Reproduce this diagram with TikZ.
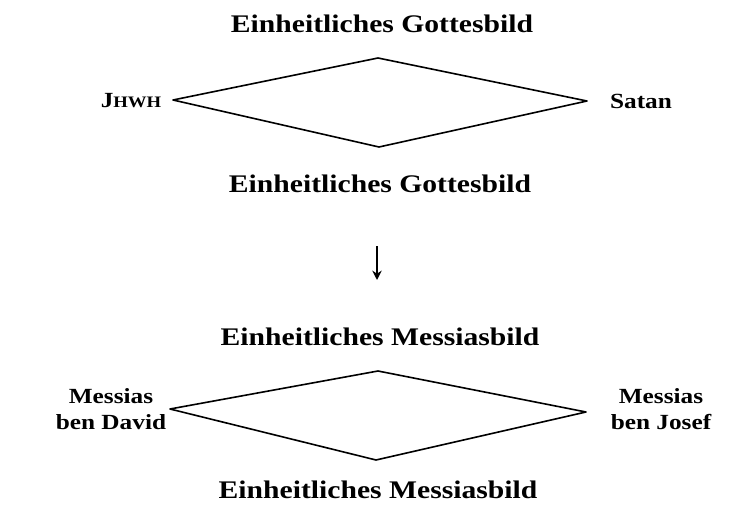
\documentclass[tikz,border=0pt]{standalone}
\usepackage{fontspec}
\setmainfont{Liberation Serif}[FakeStretch=1.17]
\usetikzlibrary{arrows.meta}
\begin{document}
\begin{tikzpicture}[x=0.75pt,y=-0.75pt,
  lbl/.style={font=\bfseries\fontsize{19}{22}\selectfont, inner sep=0pt, align=center},
  side/.style={font=\bfseries\fontsize{16.2}{19.5}\selectfont, inner sep=0pt, align=center},
  rhomb/.style={line width=1.2pt, line join=round},
  down/.style={line width=1.5pt, -{Stealth[length=7pt,width=7pt]}}]
\useasboundingbox (0,0) rectangle (733,510);
% upper diamond
\coordinate (a1) at (173,100);
\coordinate (a2) at (378,58);
\coordinate (a3) at (587,101);
\coordinate (a4) at (379,147);
\draw[rhomb] (a1) -- (a2) -- (a3) -- (a4) -- cycle;
\node[lbl] (t1) at (382,24) {Einheitliches Gottesbild};
\node[lbl] (b1) at (380,184) {Einheitliches Gottesbild};
\node[side] (jhwh) at (131,101) {J{\fontsize{12}{14}\selectfont HWH}};
\node[side] (satan) at (641,101) {Satan};
% arrow
\coordinate (p1) at (377,246);
\coordinate (p2) at (377,280);
\draw[down] (p1) -- (p2);
% lower diamond
\coordinate (c1) at (170,409);
\coordinate (c2) at (378,371);
\coordinate (c3) at (586,412);
\coordinate (c4) at (376,460);
\draw[rhomb] (c1) -- (c2) -- (c3) -- (c4) -- cycle;
\node[lbl] (t2) at (380,337) {Einheitliches Messiasbild};
\node[lbl] (b2) at (378,490) {Einheitliches Messiasbild};
\node[side] (md) at (111,409) {Messias\\ben David};
\node[side] (mj) at (661,409) {Messias\\ben Josef};
\end{tikzpicture}
\end{document}
